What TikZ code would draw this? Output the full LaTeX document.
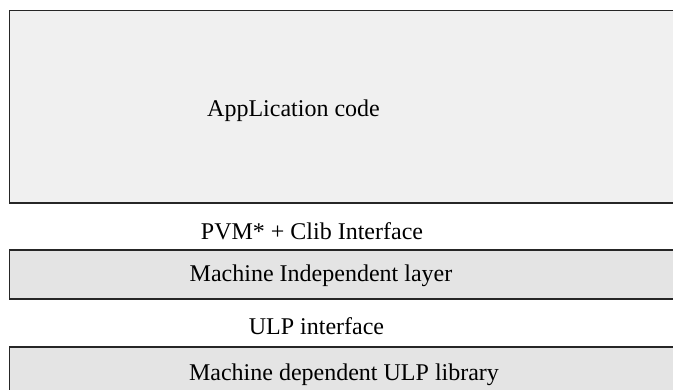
\documentclass[tikz,border=0pt]{standalone}
\usepackage{fontspec}
\setmainfont{Liberation Serif}
\usepackage{tikz}
\usetikzlibrary{positioning}

\definecolor{appfill}{HTML}{F0F0F0}
\definecolor{layerfill}{HTML}{E4E4E4}

\begin{document}
\begin{tikzpicture}[x=1pt, y=-1pt,
          every node/.style={font=\fontsize{24}{28}\selectfont, inner sep=0pt}
        ]

          % styles
          \tikzstyle{layerbox}=[draw=black!85, line width=1.4pt]
          \tikzstyle{lbl}=[anchor=base]

          \useasboundingbox (0,0) rectangle (673,390);
          \clip (0,0) rectangle (673,390);

          % layers, running off the right edge
          \draw[layerbox, fill=appfill] (9.5,10.5) rectangle (690,203);
          \draw[layerbox, fill=layerfill] (9.5,250) rectangle (690,299);
          \draw[layerbox, fill=layerfill] (9.5,347) rectangle (690,410);

          % labels
          \node[lbl] (app) at (293.5,117) {AppLication code};
          \node[lbl] (pvm) at (312,240) {PVM* + Clib Interface};
          \node[lbl] (mil) at (321,282) {Machine Independent layer};
          \node[lbl] (ulp) at (316.5,335) {ULP interface};
          \node[lbl] (mdl) at (344,381) {Machine dependent ULP library};

        \end{tikzpicture}
\end{document}
